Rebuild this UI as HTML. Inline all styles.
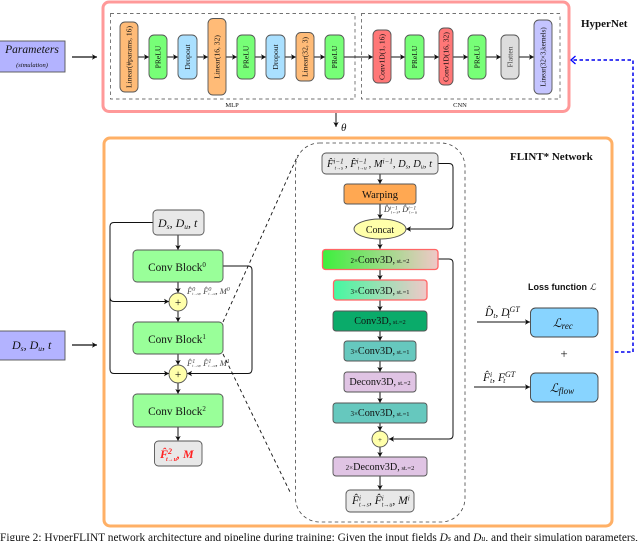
<!DOCTYPE html>
<html><head><meta charset="utf-8"><style>
html,body{margin:0;padding:0;background:#fff;width:640px;height:541px;overflow:hidden}
svg{display:block}
text{font-family:"Liberation Serif",serif;fill:#111}
.n{stroke:#555;stroke-width:.9}
.l{stroke:#111;stroke-width:1;fill:none}
.v{font-size:7.6px;text-anchor:middle}
.c{font-size:11.300px;text-anchor:middle}
.i{font-style:italic}
</style></head><body>
<svg width="640" height="541" viewBox="0 0 640 541" xmlns="http://www.w3.org/2000/svg">
<defs>
<marker id="a" markerWidth="6" markerHeight="6" refX="5" refY="3" orient="auto" markerUnits="userSpaceOnUse"><path d="M0 .3L5 3L0 5.7L1.2 3Z" fill="#111"/></marker>
<marker id="b" markerWidth="10" markerHeight="10" refX="5.500" refY="5" orient="auto" markerUnits="userSpaceOnUse"><path d="M1 1L5.500 5L1 9" fill="none" stroke="#00f" stroke-width="1.300"/></marker>
<linearGradient id="g1"><stop offset="0" stop-color="#3cf03c"/><stop offset="1" stop-color="#f0c8c8"/></linearGradient>
<linearGradient id="g2"><stop offset="0" stop-color="#44f8a0"/><stop offset="1" stop-color="#f0c8c8"/></linearGradient>
</defs>

<!-- outer frames -->
<rect x="103" y="2" width="466" height="109.500" rx="6" fill="#fff" stroke="#ff9999" stroke-width="3"/>
<rect x="104" y="138" width="508" height="388" rx="6" fill="#fff" stroke="#ffb066" stroke-width="3"/>

<!-- params -->
<rect x="-1" y="41" width="66" height="31" fill="#b3b3ff" class="n"/>
<text x="32" y="53" font-size="11.500" text-anchor="middle" class="i">Parameters</text>
<text x="32" y="67" font-size="6.500" text-anchor="middle" class="i">(simulation)</text>
<path d="M72 57H97" class="l" style="stroke-width:1.200" marker-end="url(#a)"/>
<rect x="-1" y="331" width="66" height="29" fill="#b3b3ff" class="n"/>
<text x="12" y="349" font-size="12" class="i">D<tspan font-size="7.500" dy="2">s</tspan><tspan dy="-2">, D</tspan><tspan font-size="7.500" dy="2">u</tspan><tspan dy="-2">, t</tspan></text>
<path d="M72 345H97" class="l" style="stroke-width:1.200" marker-end="url(#a)"/>

<!-- dashed groups -->
<rect x="110.500" y="13.500" width="244.500" height="85.500" fill="none" stroke="#444" stroke-width=".7" stroke-dasharray="3.500 3"/>
<rect x="361.500" y="13.500" width="198.500" height="85.500" fill="none" stroke="#444" stroke-width=".7" stroke-dasharray="3.500 3"/>
<text x="232" y="107" font-size="6.500" text-anchor="middle">MLP</text>
<text x="460" y="107" font-size="6.500" text-anchor="middle">CNN</text>

<!-- connectors in hypernet -->
<g class="l">
<path d="M138 57H149" marker-end="url(#a)"/><path d="M167 57H178" marker-end="url(#a)"/><path d="M197 57H208" marker-end="url(#a)"/><path d="M226 57H237" marker-end="url(#a)"/><path d="M255 57H266" marker-end="url(#a)"/><path d="M285 57H296" marker-end="url(#a)"/><path d="M314 57H325" marker-end="url(#a)"/><path d="M344 57H373" marker-end="url(#a)"/><path d="M391 57H405" marker-end="url(#a)"/><path d="M424 57H439" marker-end="url(#a)"/><path d="M453 57H468" marker-end="url(#a)"/><path d="M486 57H501" marker-end="url(#a)"/><path d="M519 57H534" marker-end="url(#a)"/>
</g>
<g class="n">
<rect x="120" y="22" width="18" height="70" rx="5" fill="#ffbb77"/>
<rect x="149" y="35" width="18" height="44" rx="5" fill="#77ff77"/>
<rect x="178" y="35" width="19" height="44" rx="5" fill="#aae0ff"/>
<rect x="208" y="18.500" width="18" height="76.500" rx="5" fill="#ffbb77"/>
<rect x="237" y="35" width="18" height="44" rx="5" fill="#77ff77"/>
<rect x="266" y="35" width="19" height="44" rx="5" fill="#aae0ff"/>
<rect x="296" y="32.500" width="18" height="48.500" rx="5" fill="#ffbb77"/>
<rect x="325" y="35" width="19" height="44" rx="5" fill="#77ff77"/>
<rect x="373" y="30" width="18" height="53" rx="5" fill="#ff7777"/>
<rect x="405" y="35" width="19" height="44" rx="5" fill="#77ff77"/>
<rect x="439" y="28" width="14" height="57" rx="5" fill="#ff7777"/>
<rect x="468" y="35" width="18" height="44" rx="5" fill="#77ff77"/>
<rect x="501" y="35" width="18" height="44" rx="5" fill="#dddddd"/>
<rect x="534" y="20" width="18" height="74" rx="5" fill="#c4c4ff"/>
</g>
<g class="v">
<text transform="translate(131.500 57) rotate(-90)">Linear(#params, 16)</text>
<text transform="translate(160.500 57) rotate(-90)">PReLU</text>
<text transform="translate(190 57) rotate(-90)">Dropout</text>
<text transform="translate(219.500 57) rotate(-90)">Linear(16, 32)</text>
<text transform="translate(248.500 57) rotate(-90)">PReLU</text>
<text transform="translate(278 57) rotate(-90)">Dropout</text>
<text transform="translate(307.500 57) rotate(-90)">Linear(32, 3)</text>
<text transform="translate(337 57) rotate(-90)">PReLU</text>
<text transform="translate(384.500 57) rotate(-90)">Conv1D(1, 16)</text>
<text transform="translate(417 57) rotate(-90)">PReLU</text>
<text transform="translate(448.500 57) rotate(-90)">Conv1D(16, 32)</text>
<text transform="translate(479.500 57) rotate(-90)">PReLU</text>
<text transform="translate(512.500 57) rotate(-90)" style="fill:#444">Flatten</text>
<text transform="translate(545.500 57) rotate(-90)" style="font-size:7px">Linear(32×3,kernels)</text>
</g>
<text x="581" y="27" font-size="11" font-weight="bold">HyperNet</text>
<path d="M336 113V127" class="l" marker-end="url(#a)"/>
<text x="341" y="131" font-size="11" class="i">θ</text>

<!-- blue feedback -->
<path d="M615 352H633V60H571" fill="none" stroke="#0000ee" stroke-width="1.500" stroke-dasharray="3.500 2.500" marker-end="url(#b)"/>

<text x="510" y="160" font-size="11" font-weight="bold">FLINT* Network</text>

<!-- left flow -->
<g class="l">
<path d="M178 235V250" marker-end="url(#a)"/>
<path d="M178 282V293" marker-end="url(#a)"/>
<path d="M178 311V322" marker-end="url(#a)"/>
<path d="M178 354V365" marker-end="url(#a)"/>
<path d="M178 383V394" marker-end="url(#a)"/>
<path d="M178 427V441" marker-end="url(#a)"/>
<path d="M153 222.500H114Q110 222.500 110 226.500V369Q110 373.500 114 373.500H169" marker-end="url(#a)"/>
<path d="M110 297Q110 301.500 114 301.500H169" marker-end="url(#a)"/>
<path d="M223 266H248Q252 266 252 270V369Q252 373.500 248 373.500H187" marker-end="url(#a)"/>
</g>
<g class="n">
<rect x="153" y="210" width="51" height="25" rx="4" fill="#e8e8e8"/>
<rect x="133" y="250" width="90" height="32" rx="4" fill="#99ff99"/>
<rect x="133" y="322" width="90" height="32" rx="4" fill="#99ff99"/>
<rect x="133" y="394" width="90" height="33" rx="4" fill="#99ff99"/>
<rect x="154.500" y="441" width="47.500" height="25" rx="4" fill="#e8e8e8"/>
<circle cx="178" cy="302" r="9" style="fill:#ffffaa"/>
<circle cx="178" cy="374" r="9" style="fill:#ffffaa"/>
</g>
<text x="158" y="227" font-size="12" class="i">D<tspan font-size="7.500" dy="2">s</tspan><tspan dy="-2">, D</tspan><tspan font-size="7.500" dy="2">u</tspan><tspan dy="-2">, t</tspan></text>
<g class="c">
<text x="177" y="271">Conv Block<tspan font-size="7" dy="-4">0</tspan></text>
<text x="177" y="343">Conv Block<tspan font-size="7" dy="-4">1</tspan></text>
<text x="177" y="415">Conv Block<tspan font-size="7" dy="-4">2</tspan></text>
<text x="178" y="306">+</text>
<text x="178" y="378">+</text>
</g>
<text x="187" y="294" class="i" font-size="8.500" style="fill:#444">F̂<tspan font-size="6" dy="-3">0</tspan><tspan font-size="4" dy="4" dx="-3">t→s</tspan><tspan dy="-1">, F̂</tspan><tspan font-size="6" dy="-3">0</tspan><tspan font-size="4" dy="4" dx="-3">t→u</tspan><tspan dy="-1">, M</tspan><tspan font-size="6" dy="-3">0</tspan></text>
<text x="187" y="366" class="i" font-size="8.500" style="fill:#444">F̂<tspan font-size="6" dy="-3">1</tspan><tspan font-size="4" dy="4" dx="-3">t→s</tspan><tspan dy="-1">, F̂</tspan><tspan font-size="6" dy="-3">1</tspan><tspan font-size="4" dy="4" dx="-3">t→u</tspan><tspan dy="-1">, M</tspan><tspan font-size="6" dy="-3">1</tspan></text>
<text x="160" y="458" class="i" font-size="12" font-weight="bold" style="fill:#ff2222">F̂<tspan font-size="8" dy="-4">2</tspan><tspan font-size="6" dy="7" dx="-6">t→u</tspan><tspan dy="-3">, M</tspan></text>

<!-- zoom lines -->
<path d="M223 322L298 155" fill="none" stroke="#111" stroke-width=".9" stroke-dasharray="3.500 3"/>
<path d="M223 354L291 494" fill="none" stroke="#111" stroke-width=".9" stroke-dasharray="3.500 3"/>

<!-- big dashed -->
<rect x="295.500" y="143" width="169.500" height="379" rx="24" fill="none" stroke="#444" stroke-width=".8" stroke-dasharray="3.500 3"/>

<!-- detail flow -->
<g class="l">
<path d="M380 174V184" marker-end="url(#a)"/>
<path d="M380 204V219" marker-end="url(#a)"/>
<path d="M380 239V249" marker-end="url(#a)"/>
<path d="M380 269V280" marker-end="url(#a)"/>
<path d="M380 300V311" marker-end="url(#a)"/>
<path d="M380 331V341" marker-end="url(#a)"/>
<path d="M380 361V372" marker-end="url(#a)"/>
<path d="M380 392V403" marker-end="url(#a)"/>
<path d="M380 423V431" marker-end="url(#a)"/>
<path d="M380 447V457" marker-end="url(#a)"/>
<path d="M380 476V490" marker-end="url(#a)"/>
<path d="M438 163.500H449Q453 163.500 453 167.500V225Q453 229 449 229H406" marker-end="url(#a)"/>
<path d="M438 259H449Q453 259 453 263V435Q453 439 449 439H389" marker-end="url(#a)"/>
</g>
<g class="n">
<rect x="322" y="153" width="116" height="21" rx="4" fill="#e8e8e8"/>
<rect x="344" y="184" width="72" height="20" rx="3" fill="#ffa852"/>
<ellipse cx="380" cy="229" rx="26" ry="10" style="fill:#ffffaa"/>
<rect x="333" y="311" width="94" height="20" rx="3" fill="#0aab6a"/>
<rect x="344" y="341" width="72" height="20" rx="3" fill="#66c8be"/>
<rect x="344" y="372" width="72" height="20" rx="3" fill="#e0c4e4"/>
<rect x="333" y="403" width="94" height="20" rx="3" fill="#66c8be"/>
<circle cx="380" cy="439" r="8" style="fill:#ffffaa"/>
<rect x="333" y="457" width="94" height="19" rx="3" fill="#e0c4e4"/>
<rect x="346" y="490" width="68" height="22" rx="4" fill="#e8e8e8"/>
</g>
<rect x="322.500" y="249.500" width="115.500" height="20" rx="3" fill="url(#g1)" stroke="#ff6666" stroke-width="1.300"/>
<rect x="333.500" y="280" width="93.500" height="20" rx="3" fill="url(#g2)" stroke="#ff6666" stroke-width="1.300"/>

<text x="327" y="167" class="i" font-size="10.500">F̂<tspan font-size="7" dy="-3.500">i−1</tspan><tspan font-size="5" dy="6" dx="-9">t→s</tspan><tspan dy="-2.500" dx="2">, F̂</tspan><tspan font-size="7" dy="-3.500">i−1</tspan><tspan font-size="5" dy="6" dx="-9">t→u</tspan><tspan dy="-2.500" dx="2">, M</tspan><tspan font-size="7" dy="-3.500">i−1</tspan><tspan dy="3.500">, D</tspan><tspan font-size="6" dy="1.500">s</tspan><tspan dy="-1.500">, D</tspan><tspan font-size="6" dy="1.500">u</tspan><tspan dy="-1.500">, t</tspan></text>
<text x="380" y="198" class="c" style="font-size:10.500px">Warping</text>
<text x="384" y="212" class="i" font-size="8" style="fill:#333">D̂<tspan font-size="5.500" dy="-2.500">i−1</tspan><tspan font-size="4.500" dy="4" dx="-7">t←s</tspan><tspan dy="-1.500">, D̂</tspan><tspan font-size="5.500" dy="-2.500">i−1</tspan><tspan font-size="4.500" dy="4" dx="-7">t←u</tspan></text>
<text x="380" y="233" class="c" style="font-size:10px">Concat</text>

<g class="c" style="font-size:10.200px">
<text x="380" y="263"><tspan style="font-size:7px">2×</tspan>Conv3D,<tspan style="font-size:6.500px"> st.=2</tspan></text>
<text x="380" y="294"><tspan style="font-size:7px">3×</tspan>Conv3D,<tspan style="font-size:6.500px"> st.=1</tspan></text>
<text x="380" y="324">Conv3D,<tspan style="font-size:6.500px"> st.=2</tspan></text>
<text x="380" y="354"><tspan style="font-size:7px">3×</tspan>Conv3D,<tspan style="font-size:6.500px"> st.=1</tspan></text>
<text x="380" y="385">Deconv3D,<tspan style="font-size:6.500px"> st.=2</tspan></text>
<text x="380" y="416"><tspan style="font-size:7px">3×</tspan>Conv3D,<tspan style="font-size:6.500px"> st.=1</tspan></text>
<text x="380" y="442" style="font-size:7px">+</text>
<text x="380" y="470"><tspan style="font-size:7px">2×</tspan>Deconv3D,<tspan style="font-size:6.500px"> st.=2</tspan></text>
</g>
<text x="352" y="504" class="i" font-size="11.500">F̂<tspan font-size="7" dy="-3.500">i</tspan><tspan font-size="6" dy="6" dx="-2">t→s</tspan><tspan dy="-2.500">, F̂</tspan><tspan font-size="7" dy="-3.500">i</tspan><tspan font-size="6" dy="6" dx="-2">t→u</tspan><tspan dy="-2.500">, M</tspan><tspan font-size="7" dy="-3.500">i</tspan></text>

<!-- loss -->
<text x="528" y="290" style="font-family:'Liberation Sans',sans-serif;font-weight:bold" font-size="9">Loss function <tspan class="i" style="font-family:'Liberation Serif',serif;font-weight:normal">ℒ</tspan></text>
<g class="l">
<path d="M477 322H530" marker-end="url(#a)"/>
<path d="M474 387H530" marker-end="url(#a)"/>
</g>
<rect x="530.500" y="308" width="67.500" height="29" rx="5" fill="#88d4ff" stroke="#444" stroke-width=".9"/>
<rect x="530.500" y="373" width="67.500" height="29" rx="5" fill="#88d4ff" stroke="#444" stroke-width=".9"/>
<text x="553" y="327" class="i" font-size="12">ℒ<tspan font-size="9" dy="2">rec</tspan></text>
<text x="550" y="392" class="i" font-size="12">ℒ<tspan font-size="9" dy="2">flow</tspan></text>
<text x="564" y="358" font-size="13" text-anchor="middle">+</text>
<text x="485" y="316" class="i" font-size="11.500">D̂<tspan font-size="7.500" dy="2">t</tspan><tspan dy="-2">, D</tspan><tspan font-size="8" dy="-4">GT</tspan><tspan font-size="7.500" dy="6" dx="-12">t</tspan></text>
<text x="483" y="381" class="i" font-size="11.500">F̂<tspan font-size="7.500" dy="-4">i</tspan><tspan font-size="7.500" dy="6" dx="-2">t</tspan><tspan dy="-2">, F</tspan><tspan font-size="8" dy="-4">GT</tspan><tspan font-size="7.500" dy="6" dx="-12">t</tspan></text>

<!-- caption -->
<text x="0" y="541" font-size="11.500" textLength="638" lengthAdjust="spacingAndGlyphs">Figure 2: HyperFLINT network architecture and pipeline during training: Given the input fields <tspan class="i">D<tspan font-size="8">s</tspan></tspan> and <tspan class="i">D<tspan font-size="8">u</tspan></tspan>, and their simulation parameters,</text>
</svg>
</body></html>
